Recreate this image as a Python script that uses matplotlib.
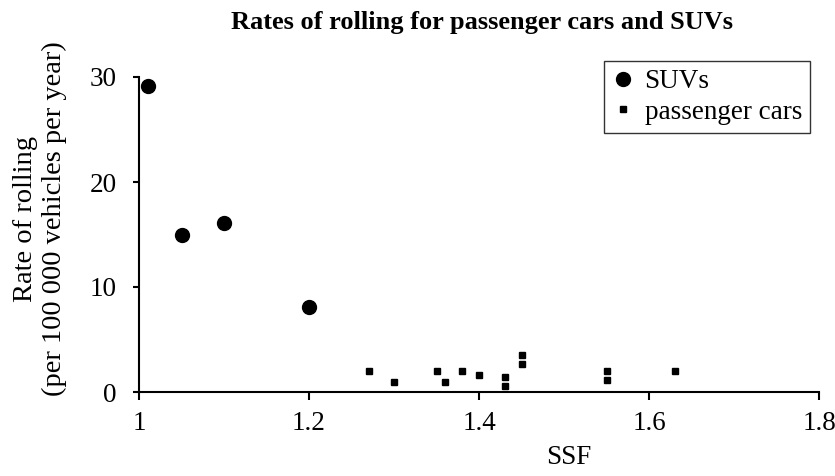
import matplotlib
matplotlib.use("Agg")
import matplotlib.pyplot as plt
from matplotlib.lines import Line2D

suv_ssf = [1.01, 1.05, 1.10, 1.20]
suv_rate = [29.1, 15.0, 16.1, 8.05]

car_ssf = [1.27, 1.30, 1.35, 1.36, 1.38, 1.40, 1.43, 1.43, 1.45, 1.45, 1.55, 1.55, 1.63]
car_rate = [2.0, 1.0, 2.0, 1.0, 2.0, 1.6, 1.4, 0.6, 3.5, 2.7, 2.0, 1.1, 2.0]

x_ticks = [1, 1.2, 1.4, 1.6, 1.8]
x_tick_labels = ["1", "1.2", "1.4", "1.6", "1.8"]
y_ticks = [0, 10, 20, 30]

plt.rcParams['font.family'] = ['Liberation Serif', 'DejaVu Serif']

W, H = 835, 476
fig = plt.figure(figsize=(W / 100, H / 100), dpi=100)
ax = fig.add_axes([139 / W, 1 - 392 / H, (819 - 139) / W, (392 - 77) / H])

ax.plot(suv_ssf, suv_rate, 'o', color='black', markersize=10, linestyle='none', label='SUVs')
ax.plot(car_ssf, car_rate, 's', color='black', markersize=5, linestyle='none', label='passenger cars')

ax.set_xlim(1, 1.8)
ax.set_ylim(0, 30)
ax.set_xticks(x_ticks)
ax.set_xticklabels(x_tick_labels)
ax.set_yticks(y_ticks)

for s in ['top', 'right']:
    ax.spines[s].set_visible(False)
for s in ['left', 'bottom']:
    ax.spines[s].set_linewidth(1.5)
ax.spines['left'].set_bounds(0, 30)
ax.tick_params(axis='x', direction='out', length=6, width=1.5, pad=8, labelsize=19.5)
ax.tick_params(axis='y', direction='out', length=4, width=1.5, pad=12, labelsize=19.5)

fig.text(482 / W, 1 - 23 / H, "Rates of rolling for passenger cars and SUVs",
         ha='center', va='center', fontsize=19, fontweight='bold')
fig.text(569 / W, 1 - 457 / H, "SSF", ha='center', va='center', fontsize=19.5)
fig.text(40 / W, 1 - 219 / H, "Rate of rolling\n(per 100 000 vehicles per year)",
         ha='center', va='center', rotation=90, fontsize=20.5, linespacing=1.15)

leg = fig.legend(handles=[
    Line2D([], [], marker='o', color='black', linestyle='none', markersize=10, label='SUVs'),
    Line2D([], [], marker='s', color='black', linestyle='none', markersize=5, label='passenger cars')],
    loc='upper left', bbox_to_anchor=(604 / W, 1 - 61 / H), fontsize=19.5,
    frameon=True, fancybox=False, edgecolor='black', handlelength=0.8,
    handletextpad=0.4, borderpad=0.3, labelspacing=0.2, borderaxespad=0)
leg.get_frame().set_linewidth(1.0)

fig.savefig("out.png", dpi=100)
